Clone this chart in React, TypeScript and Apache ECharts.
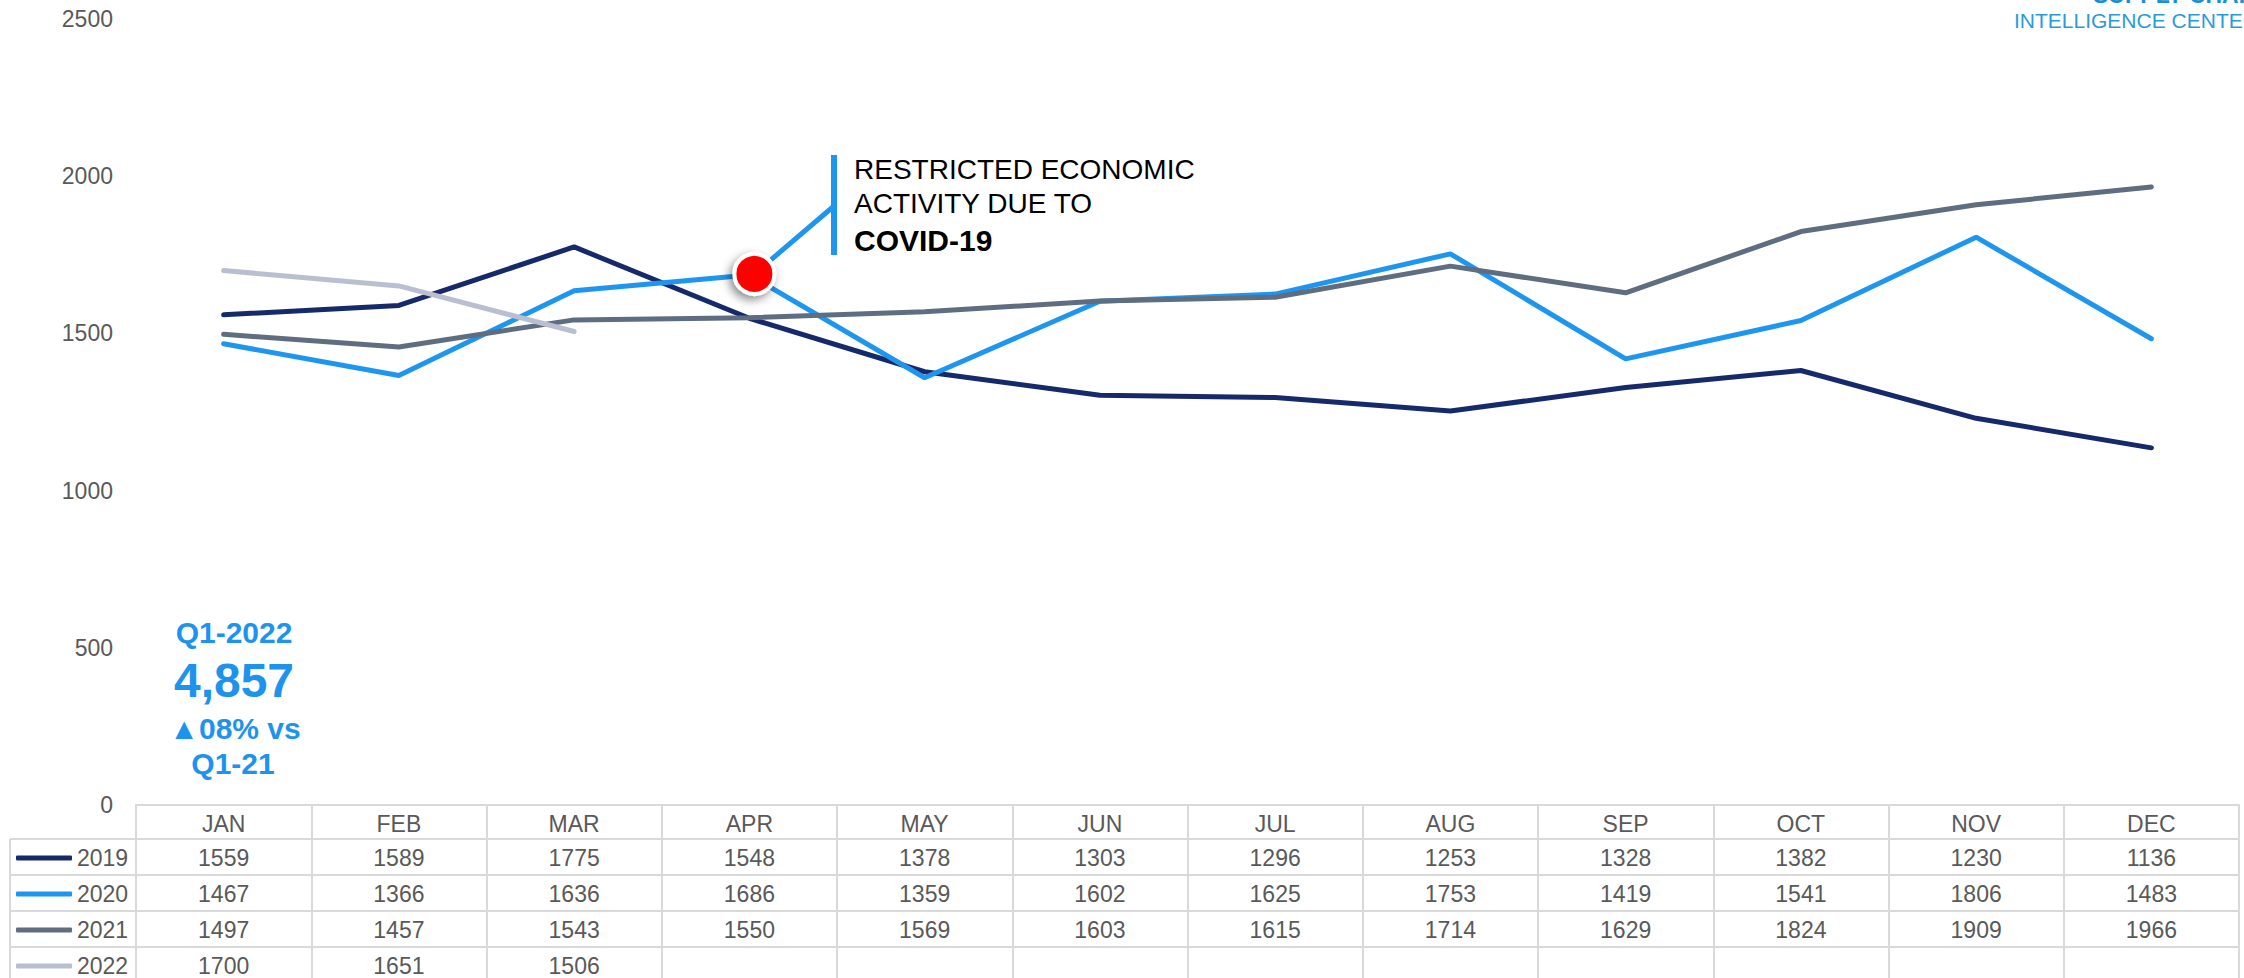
import React, { useEffect, useRef } from "react";
import * as echarts from "echarts";

const months = ["JAN", "FEB", "MAR", "APR", "MAY", "JUN", "JUL", "AUG", "SEP", "OCT", "NOV", "DEC"];
const seriesNames = ["2019", "2020", "2021", "2022"];
const values2019 = [1559, 1589, 1775, 1548, 1378, 1303, 1296, 1253, 1328, 1382, 1230, 1136];
const values2020 = [1467, 1366, 1636, 1686, 1359, 1602, 1625, 1753, 1419, 1541, 1806, 1483];
const values2021 = [1497, 1457, 1543, 1550, 1569, 1603, 1615, 1714, 1629, 1824, 1909, 1966];
const values2022 = [1700, 1651, 1506];
const yMin = 0;
const yMax = 2500;
const yInterval = 500;
const annotationMonth = "APR";
const annotationValue = 1686;
const annotationLines = ["RESTRICTED ECONOMIC", "ACTIVITY DUE TO", "COVID-19"];
const kpiLines = ["Q1-2022", "4,857", "\u25B208% vs", "Q1-21"];

const FONT = '"Liberation Sans", Arial, Helvetica, sans-serif';
const colors = ["#16296B", "#1E96F0", "#5E6D80", "#B9BFD0"];
const GRIDC = "#D9D9D9";
const TXT = "#595959";

export default function App() {
  const ref = useRef<HTMLDivElement>(null);
  useEffect(() => {
    if (!ref.current) return;
    const chart = echarts.init(ref.current, undefined, { renderer: "svg" });
    const allValues = [values2019, values2020, values2021, values2022];
    const rowOffsets = [34, 70, 106, 142];
    const rowCenters = [857, 893, 929, 965];
    const tableFont = 23;

    const xAxes: any[] = [
      {
        type: "category",
        data: months,
        boundaryGap: true,
        position: "bottom",
        axisLine: { show: true, lineStyle: { color: GRIDC, width: 2 } },
        axisTick: { show: true, length: 190, lineStyle: { color: GRIDC, width: 2 } },
        axisLabel: { interval: 0, fontSize: tableFont, color: TXT, fontFamily: FONT, margin: 8, lineHeight: 21 },
      },
    ];
    allValues.forEach((vals, i) => {
      xAxes.push({
        type: "category",
        data: months,
        boundaryGap: true,
        position: "bottom",
        offset: rowOffsets[i],
        axisLine: { show: true, lineStyle: { color: GRIDC, width: 2 } },
        axisTick: { show: false },
        axisLabel: {
          interval: 0,
          fontSize: tableFont,
          color: TXT,
          fontFamily: FONT,
          margin: 8,
          lineHeight: 21,
          formatter: (_v: string, idx: number) => (vals[idx] == null ? "" : String(vals[idx])),
        },
      });
    });

    const legends = seriesNames.map((n, i) => ({
      data: [n],
      orient: "horizontal",
      left: 16,
      top: rowCenters[i] - 10.5,
      padding: 0,
      itemWidth: 56,
      itemHeight: 5,
      icon: "roundRect",
      selectedMode: false,
      textStyle: { fontSize: tableFont, color: TXT, fontFamily: FONT, lineHeight: 21 },
    }));

    const series: any[] = allValues.map((vals, i) => ({
      name: seriesNames[i],
      type: "line",
      data: vals,
      xAxisIndex: 0,
      yAxisIndex: 0,
      showSymbol: false,
      symbol: "none",
      smooth: false,
      lineStyle: { width: 5, color: colors[i], cap: "round" },
      itemStyle: { color: colors[i] },
      z: 2 + i,
    }));
    series[1].markPoint = {
      symbol: "circle",
      symbolSize: 40,
      symbolOffset: [5, -1],
      data: [{ coord: [annotationMonth, annotationValue] }],
      label: { show: false },
      itemStyle: {
        color: "#FF0000",
        borderColor: "#FFFFFF",
        borderWidth: 4,
        shadowBlur: 10,
        shadowColor: "rgba(0,0,0,0.45)",
        shadowOffsetX: -3,
        shadowOffsetY: 4,
      },
      z: 10,
    };

    chart.setOption({
      animation: false,
      grid: { left: 136, right: 5, top: 19, bottom: 173, containLabel: false },
      xAxis: xAxes,
      yAxis: {
        type: "value",
        min: yMin,
        max: yMax,
        interval: yInterval,
        axisLine: { show: false },
        axisTick: { show: false },
        splitLine: { show: false },
        axisLabel: { fontSize: 23, color: TXT, fontFamily: FONT, margin: 23, formatter: (v: number) => String(v) },
      },
      legend: legends,
      series,
    });

    const [px, py] = chart.convertToPixel({ xAxisIndex: 0, yAxisIndex: 0 }, [annotationMonth, annotationValue]) as number[];
    const barX = 834;
    const lineStyle = { stroke: "#1E96F0", lineWidth: 5 };
    const kpiBlue = "#1E93EE";
    const graphic: any[] = [
      { type: "line", shape: { x1: 10, y1: 839, x2: 10, y2: 990 }, style: { stroke: GRIDC, lineWidth: 2 } },
      ...[839, 875, 911, 947].map((y) => ({
        type: "line",
        shape: { x1: 10, y1: y, x2: 136, y2: y },
        style: { stroke: GRIDC, lineWidth: 2 },
      })),
      { type: "polyline", shape: { points: [[px + 5, py - 1], [barX, 206]] }, style: { ...lineStyle, fill: null } },
      { type: "line", shape: { x1: barX, y1: 155, x2: barX, y2: 255 }, style: { stroke: "#1E96F0", lineWidth: 6 } },
      {
        type: "text",
        x: 854,
        y: 169,
        style: { text: annotationLines[0], fontSize: 28, fontFamily: FONT, fill: "#000", align: "left", verticalAlign: "middle" },
      },
      {
        type: "text",
        x: 854,
        y: 203,
        style: { text: annotationLines[1], fontSize: 28, fontFamily: FONT, fill: "#000", align: "left", verticalAlign: "middle" },
      },
      {
        type: "text",
        x: 854,
        y: 240,
        style: { text: annotationLines[2], fontSize: 30, fontWeight: "bold", fontFamily: FONT, fill: "#000", align: "left", verticalAlign: "middle" },
      },
      {
        type: "text",
        x: 234,
        y: 632,
        style: { text: kpiLines[0], fontSize: 30, fontWeight: "bold", fontFamily: FONT, fill: kpiBlue, align: "center", verticalAlign: "middle" },
      },
      {
        type: "text",
        x: 234,
        y: 680,
        style: { text: kpiLines[1], fontSize: 48, fontWeight: "bold", fontFamily: FONT, fill: kpiBlue, align: "center", verticalAlign: "middle" },
      },
      {
        type: "text",
        x: 235,
        y: 728,
        style: { text: kpiLines[2], fontSize: 30, fontWeight: "bold", fontFamily: FONT, fill: kpiBlue, align: "center", verticalAlign: "middle" },
      },
      {
        type: "text",
        x: 233,
        y: 763,
        style: { text: kpiLines[3], fontSize: 30, fontWeight: "bold", fontFamily: FONT, fill: kpiBlue, align: "center", verticalAlign: "middle" },
      },
      {
        type: "text",
        x: 2093,
        y: 6,
        style: { text: "SUPPLY CHAIN", fontSize: 23, fontWeight: "bold", fontFamily: FONT, fill: "#1A8FD6", align: "left", verticalAlign: "bottom" },
      },
      {
        type: "text",
        x: 2014,
        y: 20,
        style: { text: "INTELLIGENCE CENTER", fontSize: 21, fontFamily: FONT, fill: "#2A9BDA", align: "left", verticalAlign: "middle" },
      },
    ];
    chart.setOption({ graphic });

    return () => chart.dispose();
  }, []);

  return (
    <div
      ref={ref}
      style={{ position: "fixed", left: 0, top: 0, width: 2244, height: 978, background: "#fff" }}
    />
  );
}
